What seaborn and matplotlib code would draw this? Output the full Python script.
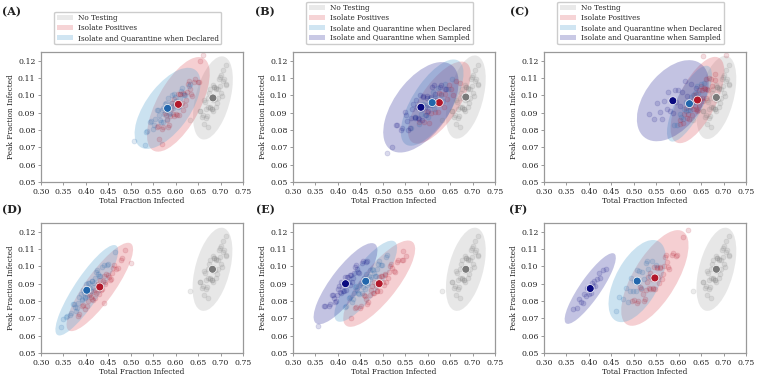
import numpy as np
import pandas as pd
import matplotlib
matplotlib.use("Agg")
import matplotlib.pyplot as plt
import matplotlib.transforms as mtransforms
from matplotlib.patches import Ellipse, Patch
import seaborn as sns

# ---------------- data ----------------
strategies = ["No Testing", "Isolate Positives",
              "Isolate and Quarantine when Declared",
              "Isolate and Quarantine when Sampled"]
panel_labels = ["(A)", "(B)", "(C)", "(D)", "(E)", "(F)"]
x_ticks = [0.30, 0.35, 0.40, 0.45, 0.50, 0.55, 0.60, 0.65, 0.70, 0.75]
y_ticks = [0.05, 0.06, 0.07, 0.08, 0.09, 0.10, 0.11, 0.12]

# No Testing cloud (same in every panel)
gray_x = [0.6534, 0.6593, 0.6638, 0.6667, 0.6697, 0.6726, 0.6756, 0.6771, 0.6800, 0.6823,
          0.6837, 0.6852, 0.6874, 0.6897, 0.6919, 0.6948, 0.6978, 0.7008, 0.7052, 0.7111,
          0.7126, 0.7067, 0.7022, 0.6993, 0.6963, 0.6934, 0.6904, 0.6889, 0.6860, 0.6837,
          0.6823, 0.6808, 0.6786, 0.6763, 0.6741, 0.6712, 0.6682, 0.6652, 0.6608, 0.6549,
          0.7120, 0.7050, 0.6720, 0.6320, 0.6640, 0.7000]
gray_y = [0.0908, 0.0876, 0.0974, 0.0919, 0.0878, 0.0983, 0.0935, 0.1036, 0.0924, 0.0995,
          0.0911, 0.1050, 0.0980, 0.1045, 0.0956, 0.1036, 0.1103, 0.1011, 0.1083, 0.1063,
          0.1062, 0.1094, 0.0996, 0.1051, 0.1092, 0.0987, 0.1035, 0.0934, 0.1046, 0.0975,
          0.1059, 0.0920, 0.0990, 0.0925, 0.1014, 0.0934, 0.0867, 0.0959, 0.0887, 0.0907,
          0.1175, 0.1145, 0.0815, 0.0855, 0.0835, 0.1120]

# Panel A
A_red_x = [0.5594, 0.5687, 0.5757, 0.5804, 0.5850, 0.5897, 0.5943, 0.5967, 0.6013, 0.6048,
           0.6072, 0.6095, 0.6130, 0.6165, 0.6200, 0.6246, 0.6293, 0.6340, 0.6410, 0.6503,
           0.6526, 0.6433, 0.6363, 0.6316, 0.6270, 0.6223, 0.6177, 0.6153, 0.6107, 0.6072,
           0.6048, 0.6025, 0.5990, 0.5955, 0.5920, 0.5874, 0.5827, 0.5780, 0.5710, 0.5617,
           0.6610, 0.6550, 0.5700, 0.5630]
A_red_y = [0.0819, 0.0804, 0.0897, 0.0857, 0.0828, 0.0924, 0.0890, 0.0979, 0.0890, 0.0955,
           0.0886, 0.1008, 0.0953, 0.1014, 0.0943, 0.1017, 0.1081, 0.1008, 0.1079, 0.1075,
           0.1077, 0.1092, 0.0999, 0.1039, 0.1068, 0.0972, 0.1006, 0.0917, 0.1006, 0.0941,
           0.1010, 0.0888, 0.0943, 0.0882, 0.0953, 0.0879, 0.0815, 0.0888, 0.0817, 0.0821,
           0.1230, 0.1200, 0.0720, 0.0750]
A_blue_x = [0.5330, 0.5428, 0.5501, 0.5550, 0.5599, 0.5648, 0.5697, 0.5722, 0.5771, 0.5808,
            0.5832, 0.5857, 0.5894, 0.5930, 0.5967, 0.6016, 0.6065, 0.6114, 0.6188, 0.6286,
            0.6310, 0.6212, 0.6139, 0.6090, 0.6041, 0.5992, 0.5943, 0.5918, 0.5869, 0.5832,
            0.5808, 0.5783, 0.5746, 0.5710, 0.5673, 0.5624, 0.5575, 0.5526, 0.5452, 0.5354,
            0.5070, 0.5310]
A_blue_y = [0.0786, 0.0849, 0.0806, 0.0866, 0.0916, 0.0858, 0.0913, 0.0849, 0.0950, 0.0913,
            0.0984, 0.0892, 0.0958, 0.0925, 0.1005, 0.0966, 0.0936, 0.1023, 0.1000, 0.1053,
            0.1064, 0.1001, 0.1044, 0.0984, 0.0934, 0.0992, 0.0937, 0.1001, 0.0900, 0.0937,
            0.0866, 0.0958, 0.0892, 0.0925, 0.0845, 0.0884, 0.0914, 0.0827, 0.0850, 0.0797,
            0.0735, 0.0712]

# Panel B
B_red_x = [0.6726, 0.6633, 0.6563, 0.6516, 0.6470, 0.6423, 0.6377, 0.6353, 0.6307, 0.6272,
           0.6248, 0.6225, 0.6190, 0.6155, 0.6120, 0.6074, 0.6027, 0.5980, 0.5910, 0.5817]
B_red_y = [0.1070, 0.1083, 0.1002, 0.1037, 0.1062, 0.0979, 0.1009, 0.0931, 0.1009, 0.0952,
           0.1012, 0.0906, 0.0953, 0.0901, 0.0963, 0.0898, 0.0843, 0.0906, 0.0844, 0.0847]
B_blue_x = [0.5634, 0.5727, 0.5797, 0.5844, 0.5890, 0.5937, 0.5983, 0.6007, 0.6053, 0.6088,
            0.6112, 0.6135, 0.6170, 0.6205, 0.6240, 0.6286, 0.6333, 0.6380, 0.6450, 0.6543]
B_blue_y = [0.0810, 0.0877, 0.0832, 0.0895, 0.0948, 0.0887, 0.0945, 0.0877, 0.0985, 0.0945,
            0.1021, 0.0923, 0.0993, 0.0958, 0.1043, 0.1001, 0.0970, 0.1063, 0.1038, 0.1094]
B_purple_x = [0.5290, 0.5402, 0.5486, 0.5542, 0.5598, 0.5654, 0.5710, 0.5738, 0.5794, 0.5836,
              0.5864, 0.5892, 0.5934, 0.5976, 0.6018, 0.6074, 0.6130, 0.6186, 0.6270, 0.6382,
              0.6410, 0.6298, 0.6214, 0.6158, 0.6102, 0.6046, 0.5990, 0.5962, 0.5906, 0.5864,
              0.5836, 0.5808, 0.5766, 0.5724, 0.5682, 0.5626, 0.5570, 0.5514, 0.5430, 0.5318,
              0.5090, 0.5210]
B_purple_y = [0.0827, 0.0802, 0.0901, 0.0852, 0.0814, 0.0920, 0.0875, 0.0975, 0.0869, 0.0941,
              0.0860, 0.0996, 0.0931, 0.0995, 0.0912, 0.0992, 0.1061, 0.0973, 0.1048, 0.1035,
              0.1035, 0.1060, 0.0961, 0.1010, 0.1048, 0.0942, 0.0987, 0.0887, 0.0993, 0.0921,
              0.1002, 0.0866, 0.0931, 0.0867, 0.0950, 0.0870, 0.0801, 0.0889, 0.0814, 0.0827,
              0.0665, 0.0700]

# Panel C
C_red_x = [0.682, 0.674, 0.668, 0.664, 0.660, 0.656, 0.652, 0.650, 0.646, 0.643,
           0.641, 0.639, 0.636, 0.633, 0.630, 0.626, 0.622, 0.618, 0.612, 0.604,
           0.602, 0.610, 0.616, 0.620, 0.624, 0.628, 0.632, 0.634, 0.638, 0.641,
           0.643, 0.645, 0.648, 0.651, 0.654, 0.658, 0.662, 0.666, 0.672, 0.680,
           0.706, 0.655]
C_red_y = [0.1121, 0.1054, 0.1099, 0.1036, 0.0983, 0.1044, 0.0986, 0.1054, 0.0946, 0.0986,
           0.0910, 0.1008, 0.0938, 0.0973, 0.0888, 0.0930, 0.0961, 0.0868, 0.0893, 0.0837,
           0.0855, 0.0842, 0.0927, 0.0890, 0.0863, 0.0951, 0.0920, 0.1001, 0.0920, 0.0980,
           0.0917, 0.1028, 0.0978, 0.1033, 0.0968, 0.1036, 0.1094, 0.1028, 0.1093, 0.1089,
           0.1235, 0.1225]
C_blue_x = [0.5906, 0.5973, 0.6023, 0.6056, 0.6090, 0.6123, 0.6156, 0.6173, 0.6207, 0.6232,
            0.6248, 0.6265, 0.6290, 0.6315, 0.6340, 0.6374, 0.6407, 0.6440, 0.6491, 0.6557]
C_blue_y = [0.0830, 0.0831, 0.0892, 0.0873, 0.0861, 0.0922, 0.0907, 0.0961, 0.0913, 0.0955,
            0.0917, 0.0991, 0.0962, 0.1001, 0.0963, 0.1011, 0.1053, 0.1015, 0.1063, 0.1070]
C_purple_x = [0.5336, 0.5443, 0.5523, 0.5576, 0.5630, 0.5683, 0.5736, 0.5763, 0.5817, 0.5857,
              0.5883, 0.5910, 0.5950, 0.5990, 0.6030, 0.6084, 0.6137, 0.6190, 0.6271, 0.6377]
C_purple_y = [0.0894, 0.0863, 0.0958, 0.0905, 0.0864, 0.0967, 0.0921, 0.1019, 0.0910, 0.0979,
              0.0896, 0.1032, 0.0964, 0.1028, 0.0941, 0.1019, 0.1084, 0.0994, 0.1064, 0.1045]

# Panel D
D_red_x = [0.3816, 0.3915, 0.3989, 0.4038, 0.4088, 0.4137, 0.4186, 0.4211, 0.4261, 0.4298,
           0.4322, 0.4347, 0.4384, 0.4421, 0.4458, 0.4508, 0.4557, 0.4606, 0.4681, 0.4779,
           0.4804, 0.4705, 0.4631, 0.4582, 0.4532, 0.4483, 0.4434, 0.4409, 0.4359, 0.4322,
           0.4298, 0.4273, 0.4236, 0.4199, 0.4162, 0.4112, 0.4063, 0.4014, 0.3939, 0.3841,
           0.5000, 0.4880, 0.4400]
D_red_y = [0.0714, 0.0770, 0.0753, 0.0800, 0.0841, 0.0810, 0.0854, 0.0815, 0.0890, 0.0871,
           0.0923, 0.0865, 0.0914, 0.0898, 0.0957, 0.0938, 0.0926, 0.0992, 0.0987, 0.1037,
           0.1048, 0.0992, 0.1009, 0.0962, 0.0921, 0.0952, 0.0908, 0.0947, 0.0872, 0.0891,
           0.0839, 0.0897, 0.0848, 0.0864, 0.0805, 0.0824, 0.0836, 0.0770, 0.0775, 0.0725,
           0.1022, 0.1095, 0.0788]
D_blue_x = [0.3554, 0.3647, 0.3717, 0.3764, 0.3810, 0.3857, 0.3903, 0.3927, 0.3973, 0.4008,
            0.4032, 0.4055, 0.4090, 0.4125, 0.4160, 0.4206, 0.4253, 0.4300, 0.4370, 0.4463,
            0.4486, 0.4393, 0.4323, 0.4276, 0.4230, 0.4183, 0.4137, 0.4113, 0.4067, 0.4032,
            0.4008, 0.3985, 0.3950, 0.3915, 0.3880, 0.3834, 0.3787, 0.3740, 0.3670, 0.3577,
            0.3450, 0.4650, 0.3500]
D_blue_y = [0.0710, 0.0717, 0.0782, 0.0766, 0.0757, 0.0821, 0.0809, 0.0865, 0.0820, 0.0865,
            0.0827, 0.0903, 0.0877, 0.0918, 0.0882, 0.0933, 0.0979, 0.0943, 0.0996, 0.1009,
            0.1014, 0.1007, 0.0942, 0.0958, 0.0967, 0.0903, 0.0915, 0.0859, 0.0904, 0.0859,
            0.0897, 0.0821, 0.0847, 0.0806, 0.0842, 0.0791, 0.0745, 0.0781, 0.0728, 0.0715,
            0.0650, 0.1085, 0.0695]

# Panel E
E_red_x = [0.4386, 0.4493, 0.4573, 0.4626, 0.4680, 0.4733, 0.4786, 0.4813, 0.4867, 0.4907,
           0.4933, 0.4960, 0.5000, 0.5040, 0.5080, 0.5134, 0.5187, 0.5240, 0.5321, 0.5427,
           0.5454, 0.5347, 0.5267, 0.5214, 0.5160, 0.5107, 0.5054, 0.5027, 0.4973, 0.4933,
           0.4907, 0.4880, 0.4840, 0.4800, 0.4760, 0.4706, 0.4653, 0.4600, 0.4519, 0.4413,
           0.5520, 0.4300, 0.5450]
E_red_y = [0.0761, 0.0762, 0.0832, 0.0810, 0.0796, 0.0866, 0.0849, 0.0910, 0.0856, 0.0903,
           0.0860, 0.0944, 0.0912, 0.0956, 0.0912, 0.0967, 0.1015, 0.0971, 0.1026, 0.1034,
           0.1039, 0.1038, 0.0968, 0.0990, 0.1004, 0.0934, 0.0951, 0.0890, 0.0944, 0.0897,
           0.0940, 0.0856, 0.0888, 0.0844, 0.0888, 0.0833, 0.0785, 0.0829, 0.0774, 0.0766,
           0.1060, 0.0700, 0.1090]
E_blue_x = [0.4154, 0.4247, 0.4317, 0.4364, 0.4410, 0.4457, 0.4503, 0.4527, 0.4573, 0.4608,
            0.4632, 0.4655, 0.4690, 0.4725, 0.4760, 0.4806, 0.4853, 0.4900, 0.4970, 0.5063,
            0.5086, 0.4993, 0.4923, 0.4876, 0.4830, 0.4783, 0.4737, 0.4713, 0.4667, 0.4632,
            0.4608, 0.4585, 0.4550, 0.4515, 0.4480, 0.4434, 0.4387, 0.4340, 0.4270, 0.4177]
E_blue_y = [0.0763, 0.0819, 0.0795, 0.0844, 0.0885, 0.0848, 0.0892, 0.0848, 0.0927, 0.0904,
            0.0958, 0.0894, 0.0945, 0.0925, 0.0987, 0.0963, 0.0947, 0.1015, 0.1006, 0.1054,
            0.1065, 0.1009, 0.1033, 0.0984, 0.0943, 0.0980, 0.0936, 0.0980, 0.0901, 0.0924,
            0.0870, 0.0934, 0.0883, 0.0903, 0.0841, 0.0865, 0.0881, 0.0813, 0.0822, 0.0774]
E_purple_x = [0.3696, 0.3791, 0.3862, 0.3909, 0.3957, 0.4004, 0.4051, 0.4075, 0.4123, 0.4158,
              0.4182, 0.4206, 0.4241, 0.4277, 0.4312, 0.4360, 0.4407, 0.4454, 0.4526, 0.4620,
              0.4644, 0.4549, 0.4478, 0.4431, 0.4383, 0.4336, 0.4289, 0.4265, 0.4217, 0.4182,
              0.4158, 0.4134, 0.4099, 0.4063, 0.4028, 0.3980, 0.3933, 0.3886, 0.3814, 0.3720,
              0.3560]
E_purple_y = [0.0770, 0.0771, 0.0836, 0.0816, 0.0802, 0.0868, 0.0852, 0.0909, 0.0859, 0.0903,
              0.0863, 0.0941, 0.0911, 0.0952, 0.0912, 0.0963, 0.1008, 0.0967, 0.1019, 0.1026,
              0.1030, 0.1029, 0.0964, 0.0984, 0.0998, 0.0932, 0.0948, 0.0891, 0.0941, 0.0897,
              0.0937, 0.0859, 0.0889, 0.0848, 0.0888, 0.0837, 0.0792, 0.0833, 0.0781, 0.0774,
              0.0655]

# Panel F
F_red_x = [0.4970, 0.5070, 0.5145, 0.5195, 0.5245, 0.5295, 0.5345, 0.5370, 0.5420, 0.5458,
           0.5483, 0.5508, 0.5545, 0.5583, 0.5620, 0.5670, 0.5720, 0.5770, 0.5845, 0.5945,
           0.5970, 0.5870, 0.5795, 0.5745, 0.5695, 0.5645, 0.5595, 0.5570, 0.5520, 0.5483,
           0.5458, 0.5433, 0.5395, 0.5358, 0.5320, 0.5270, 0.5220, 0.5170, 0.5095, 0.4995,
           0.6200, 0.6100]
F_red_y = [0.0802, 0.0788, 0.0881, 0.0841, 0.0812, 0.0909, 0.0874, 0.0964, 0.0874, 0.0940,
           0.0870, 0.0994, 0.0939, 0.0999, 0.0927, 0.1003, 0.1067, 0.0994, 0.1065, 0.1062,
           0.1064, 0.1078, 0.0985, 0.1025, 0.1054, 0.0957, 0.0992, 0.0902, 0.0992, 0.0926,
           0.0996, 0.0872, 0.0927, 0.0867, 0.0939, 0.0863, 0.0799, 0.0872, 0.0801, 0.0804,
           0.1210, 0.1170]
F_blue_x = [0.5502, 0.5417, 0.5353, 0.5310, 0.5268, 0.5225, 0.5183, 0.5161, 0.5119, 0.5087,
            0.5065, 0.5044, 0.5012, 0.4980, 0.4948, 0.4906, 0.4863, 0.4820, 0.4756, 0.4671,
            0.4600, 0.5300]
F_blue_y = [0.1009, 0.1032, 0.0942, 0.0987, 0.1021, 0.0925, 0.0966, 0.0875, 0.0971, 0.0906,
            0.0980, 0.0856, 0.0915, 0.0857, 0.0932, 0.0860, 0.0797, 0.0877, 0.0809, 0.0821,
            0.0745, 0.1030]
F_purple_x = [0.3650, 0.3726, 0.3783, 0.3821, 0.3859, 0.3897, 0.3935, 0.3954, 0.3992, 0.4020,
              0.4040, 0.4059, 0.4087, 0.4116, 0.4144, 0.4182, 0.4220, 0.4258, 0.4315, 0.4391]
F_purple_y = [0.0753, 0.0758, 0.0809, 0.0797, 0.0790, 0.0840, 0.0831, 0.0874, 0.0839, 0.0874,
              0.0845, 0.0904, 0.0884, 0.0916, 0.0888, 0.0928, 0.0963, 0.0935, 0.0977, 0.0987]

# mean (big dot) and spread (std x, std y, correlation) per strategy, per panel
# order: No Testing, Isolate Positives, Declared, Sampled
A_mx = [0.683, 0.606, 0.582];        A_my = [0.0985, 0.0948, 0.0925]
A_sx = [0.0148, 0.0233, 0.0245];     A_sy = [0.0080, 0.0091, 0.0078];   A_rho = [0.45, 0.65, 0.62]
B_mx = [0.685, 0.626, 0.610, 0.585]; B_my = [0.0990, 0.0958, 0.0958, 0.0931]
B_sx = [0.0148, 0.0233, 0.0233, 0.0280]; B_sy = [0.0080, 0.0079, 0.0083, 0.0087]
B_rho = [0.45, 0.70, 0.68, 0.55]
C_mx = [0.684, 0.642, 0.624, 0.587]; C_my = [0.0988, 0.0973, 0.0952, 0.0969]
C_sx = [0.0148, 0.0200, 0.0167, 0.0267]; C_sy = [0.0080, 0.0083, 0.0073, 0.0078]
C_rho = [0.45, 0.65, 0.75, 0.45]
D_mx = [0.682, 0.431, 0.402];        D_my = [0.0983, 0.0881, 0.0862]
D_sx = [0.0148, 0.0247, 0.0233];     D_sy = [0.0080, 0.0085, 0.0087];   D_rho = [0.45, 0.85, 0.87]
E_mx = [0.685, 0.492, 0.462, 0.417]; E_my = [0.0983, 0.0900, 0.0914, 0.0900]
E_sx = [0.0148, 0.0267, 0.0233, 0.0237]; E_sy = [0.0080, 0.0083, 0.0078, 0.0078]
E_rho = [0.45, 0.80, 0.82, 0.82]
F_mx = [0.684, 0.547, 0.5076, 0.403]; F_my = [0.0983, 0.0933, 0.0915, 0.0872]
F_sx = [0.0148, 0.0250, 0.0213, 0.0190]; F_sy = [0.0080, 0.0092, 0.0079, 0.0068]
F_rho = [0.45, 0.68, 0.55, 0.87]

# ---------------- styling ----------------
sns.set_theme(style="white")
plt.rcParams["font.family"] = ["DejaVu Serif"]

dot_colors = ["#7a7a7a", "#b2182b", "#2166ac", "#0a0a80"]
fill_colors = ["#b8b8b8", "#e0606a", "#6baed6", "#3a3aa0"]
fill_alpha = [0.33, 0.30, 0.35, 0.30]

panels = [
    ([(gray_x, gray_y), (A_red_x, A_red_y), (A_blue_x, A_blue_y)], A_mx, A_my, A_sx, A_sy, A_rho),
    ([(gray_x, gray_y), (B_red_x, B_red_y), (B_blue_x, B_blue_y), (B_purple_x, B_purple_y)],
     B_mx, B_my, B_sx, B_sy, B_rho),
    ([(gray_x, gray_y), (C_red_x, C_red_y), (C_blue_x, C_blue_y), (C_purple_x, C_purple_y)],
     C_mx, C_my, C_sx, C_sy, C_rho),
    ([(gray_x, gray_y), (D_red_x, D_red_y), (D_blue_x, D_blue_y)], D_mx, D_my, D_sx, D_sy, D_rho),
    ([(gray_x, gray_y), (E_red_x, E_red_y), (E_blue_x, E_blue_y), (E_purple_x, E_purple_y)],
     E_mx, E_my, E_sx, E_sy, E_rho),
    ([(gray_x, gray_y), (F_red_x, F_red_y), (F_blue_x, F_blue_y), (F_purple_x, F_purple_y)],
     F_mx, F_my, F_sx, F_sy, F_rho),
]


def conf_ellipse(ax, mx, my, sx, sy, rho, n_std, **kw):
    rx = np.sqrt(1 + rho)
    ry = np.sqrt(1 - rho)
    e = Ellipse((0, 0), width=2 * rx, height=2 * ry, **kw)
    t = (mtransforms.Affine2D().rotate_deg(45)
         .scale(sx * n_std, sy * n_std).translate(mx, my))
    e.set_transform(t + ax.transData)
    ax.add_patch(e)


W, H = 759, 375
fig = plt.figure(figsize=(W / 100, H / 100), dpi=100)
lefts = [41, 293, 544]
tops = [52, 223]
aw, ah = 202, 130
label_pos = [(2, 12), (255, 12), (510, 12), (2, 210), (256, 210), (509, 210)]

for i, (clouds, mx, my, sx, sy, rho) in enumerate(panels):
    r, c = divmod(i, 3)
    ax = fig.add_axes([lefts[c] / W, 1 - (tops[r] + ah) / H, aw / W, ah / H])
    for k in range(len(clouds)):
        conf_ellipse(ax, mx[k], my[k], sx[k], sy[k], rho[k], 3.0,
                     facecolor=fill_colors[k], alpha=fill_alpha[k], edgecolor="none", zorder=1)
    for k, (px, py) in enumerate(clouds):
        df = pd.DataFrame({"x": px, "y": py})
        sns.scatterplot(data=df, x="x", y="y", ax=ax, color=dot_colors[k], alpha=0.15,
                        s=13, edgecolor=dot_colors[k], linewidth=0.5, zorder=2, legend=False)
    mdf = pd.DataFrame({"x": mx, "y": my, "s": strategies[:len(mx)]})
    sns.scatterplot(data=mdf, x="x", y="y", hue="s", palette=dot_colors[:len(mx)], ax=ax,
                    s=32, edgecolor="white", linewidth=0.5, zorder=4, legend=False)
    ax.set_xlim(0.30, 0.75)
    ax.set_ylim(0.05, 0.125)
    ax.set_xticks(x_ticks)
    ax.set_xticklabels([f"{v:.2f}" for v in x_ticks])
    ax.set_yticks(y_ticks)
    ax.set_yticklabels([f"{v:.2f}" for v in y_ticks])
    ax.tick_params(axis="both", labelsize=5.6, length=2.5, width=0.6, color="#888888",
                   pad=1.5, labelcolor="#222222", bottom=True, left=True)
    ax.set_xlabel("Total Fraction Infected", fontsize=5.3, labelpad=1, color="#222222")
    ax.set_ylabel("Peak Fraction Infected", fontsize=5.3, labelpad=2, color="#222222")
    for sp in ax.spines.values():
        sp.set_color("#999999")
        sp.set_linewidth(0.9)
    lx, ly = label_pos[i]
    fig.text(lx / W, 1 - ly / H, panel_labels[i], fontsize=8, fontweight="bold",
             va="center", ha="left", color="#222222")
    if r == 0:
        n = len(clouds)
        handles = [Patch(facecolor=fill_colors[k], alpha=fill_alpha[k] * 0.9, edgecolor="none")
                   for k in range(n)]
        ax.legend(handles, strategies[:n], loc="lower center", bbox_to_anchor=(0.48, 1.05),
                  fontsize=5.2, frameon=True, framealpha=1, edgecolor="#cccccc",
                  borderpad=0.3, labelspacing=0.28, handlelength=2.2, handletextpad=0.8,
                  borderaxespad=0.2)

fig.savefig("out.png", dpi=100)
